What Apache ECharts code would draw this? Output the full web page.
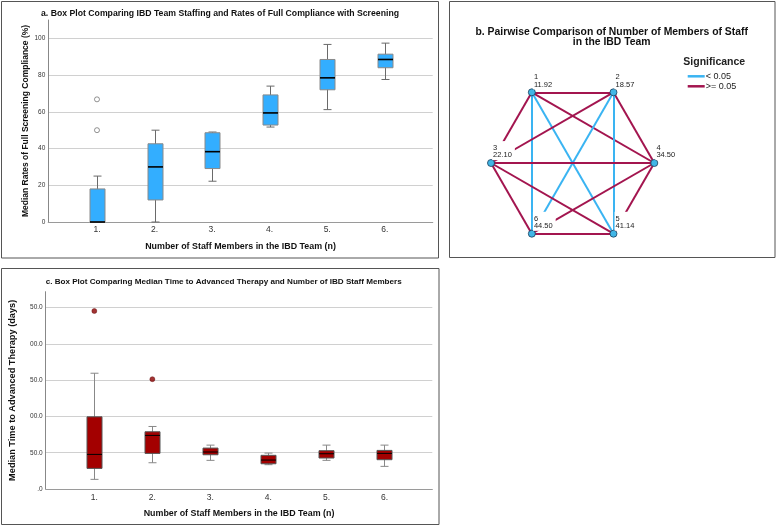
<!DOCTYPE html>
<html>
<head>
<meta charset="utf-8">
<script src="https://cdn.jsdelivr.net/npm/echarts@6/dist/echarts.min.js"></script>
<style>
	html, body { margin: 0; padding: 0; background: #fff; }
	#chart { width: 777px; height: 527px; }
</style>
</head>
<body>
<div id="chart"></div>
<script>
"use strict";

var teamSizes = ['1.', '2.', '3.', '4.', '5.', '6.'];

// panel a - [min, Q1, median, Q3, max]
var screeningBoxes = [
	[0, 0, 0, 18, 25],
	[0, 12, 30, 42.6, 50],
	[22.2, 29.1, 38.3, 48.6, 49],
	[51.7, 52.8, 59.4, 69.2, 74],
	[61.2, 72, 78.5, 88.5, 96.7],
	[77.6, 84, 88.5, 91.4, 97.4]
];
var screeningOutliers = [[0, 50], [0, 66.8]];

// panel c - [min, Q1, median, Q3, max]
var therapyBoxes = [
	[13.3, 28.4, 47.7, 99.5, 159.6],
	[36.2, 49.1, 73.9, 78.9, 86.2],
	[39.5, 47.2, 51, 56.4, 60.5],
	[33.5, 34.8, 39.9, 46.4, 49.5],
	[39.5, 42.7, 48.6, 52.8, 60.5],
	[31.2, 40.4, 49.1, 53.2, 60.5]
];
var therapyOutliers = [[0, 245.4], [1, 151.4]];
var therapyTicks = ['.0', '50.0', '00.0', '50.0', '00.0', '50.0'];

// panel b
var groupNames = ['1', '2', '3', '4', '5', '6'];
var meanRanks = [11.92, 18.57, 22.10, 34.50, 41.14, 44.50];
var hexSlot = [4, 5, 3, 0, 1, 2];
var pairs = [[1,2],[1,3],[1,4],[1,5],[1,6],[2,3],[2,4],[2,5],[2,6],[3,4],[3,5],[3,6],[4,5],[4,6],[5,6]];
var pairSignificant = [false, false, false, true, true, false, false, true, true, false, false, false, false, false, false];

var FONT = 'Liberation Sans';
var BLUE = '#3AB4F2', RED = '#A3154F';

function boxRenderer(fill, stroke, whisker, medianWidth) {
	return function (params, api) {
		var c = api.value(0);
		var lo = api.coord([c, api.value(1)]);
		var q1 = api.coord([c, api.value(2)]);
		var md = api.coord([c, api.value(3)]);
		var q3 = api.coord([c, api.value(4)]);
		var hi = api.coord([c, api.value(5)]);
		var x = Math.round(lo[0]) + 0.5, w = 15, cap = 8;
		var ws = { stroke: whisker, lineWidth: 1 };
		return {
			type: 'group',
			children: [
				{ type: 'line', shape: { x1: x, y1: hi[1], x2: x, y2: lo[1] }, style: ws },
				{ type: 'line', shape: { x1: x - cap / 2, y1: hi[1], x2: x + cap / 2, y2: hi[1] }, style: ws },
				{ type: 'line', shape: { x1: x - cap / 2, y1: lo[1], x2: x + cap / 2, y2: lo[1] }, style: ws },
				{ type: 'rect', shape: { x: x - w / 2, y: q3[1], width: w, height: q1[1] - q3[1] },
					style: { fill: fill, stroke: stroke, lineWidth: 1 } },
				{ type: 'line', shape: { x1: x - w / 2, y1: md[1], x2: x + w / 2, y2: md[1] },
					style: { stroke: '#000', lineWidth: medianWidth } }
			]
		};
	};
}

function withIndex(rows) {
	return rows.map(function (r, i) { return [i].concat(r); });
}

// hexagon layout on a hidden cartesian grid
var nodes = groupNames.map(function (n, i) {
	var ang = hexSlot[i] * Math.PI / 3;
	return { name: n, rank: meanRanks[i], value: [Math.cos(ang), Math.sin(ang)] };
});
var links = pairs.map(function (p, i) {
	return {
		source: p[0] - 1, target: p[1] - 1,
		lineStyle: { color: pairSignificant[i] ? BLUE : RED }
	};
});

function bgX(gridIndex, name, gap) {
	return {
		gridIndex: gridIndex, type: 'value', min: 0, max: 1,
		axisLine: { show: true, lineStyle: { color: '#9a9a9a', width: 1.2 } },
		axisTick: { show: false }, axisLabel: { show: false }, splitLine: { show: false },
		name: name, nameLocation: 'middle', nameGap: gap,
		nameTextStyle: { fontFamily: FONT, fontWeight: 'bold', fontSize: 8.9, color: '#111' }
	};
}
function fgX(gridIndex, margin) {
	return {
		gridIndex: gridIndex, type: 'category', data: teamSizes,
		axisLine: { show: false }, axisTick: { show: false }, splitLine: { show: false },
		axisLabel: { fontFamily: FONT, fontSize: 8.5, color: '#333', margin: margin }
	};
}

var chart = echarts.init(document.getElementById('chart'), null, { renderer: 'canvas' });

var option = {
	animation: false,
	backgroundColor: '#fff',
	grid: [
		{ left: 48.3, top: 20, width: 384.4, height: 202 },
		{ left: 68.2, top: 20, width: 345.3, height: 202 },
		{ left: 45.7, top: 291.7, width: 386.6, height: 197.3 },
		{ left: 65.3, top: 291.7, width: 348.2, height: 197.3 },
		{ left: 491, top: 92.3, width: 163.3, height: 141.4 }
	],
	xAxis: [
		bgX(0, 'Number of Staff Members in the IBD Team (n)', 20),
		fgX(1, 3),
		bgX(2, 'Number of Staff Members in the IBD Team (n)', 20),
		fgX(3, 4),
		{ gridIndex: 4, type: 'value', min: -1, max: 1, show: false }
	],
	yAxis: [
		{
			gridIndex: 0, type: 'value', min: 0, max: 110, interval: 20,
			axisLine: { show: true, lineStyle: { color: '#888' } },
			axisTick: { show: false },
			splitLine: { show: true, showMinLine: false, showMaxLine: false, lineStyle: { color: '#d0d0d0' } },
			axisLabel: { fontFamily: FONT, fontSize: 6.5, color: '#333', margin: 3, showMaxLabel: false },
			name: 'Median Rates of Full Screening Compliance (%)', nameLocation: 'middle', nameGap: 18,
			nameTextStyle: { fontFamily: FONT, fontWeight: 'bold', fontSize: 8.5, color: '#111' }
		},
		{ gridIndex: 1, type: 'value', min: 0, max: 110, show: false },
		{
			gridIndex: 2, type: 'value', min: 0, max: 272, interval: 50,
			axisLine: { show: true, lineStyle: { color: '#888' } },
			axisTick: { show: false },
			splitLine: { show: true, showMinLine: false, showMaxLine: false, lineStyle: { color: '#d0d0d0' } },
			axisLabel: {
				fontFamily: FONT, fontSize: 6.5, color: '#333', margin: 3, showMaxLabel: false,
				formatter: function (v) { return therapyTicks[Math.round(v / 50)]; }
			},
			name: 'Median Time to Advanced Therapy (days)', nameLocation: 'middle', nameGap: 29,
			nameTextStyle: { fontFamily: FONT, fontWeight: 'bold', fontSize: 9.2, color: '#111' }
		},
		{ gridIndex: 3, type: 'value', min: 0, max: 272, show: false },
		{ gridIndex: 4, type: 'value', min: -0.8660254, max: 0.8660254, inverse: true, show: false }
	],
	legend: {
		data: ['< 0.05', '>= 0.05'],
		orient: 'vertical', left: 687.7, top: 71.3, padding: 0,
		icon: 'rect', itemWidth: 17, itemHeight: 2.5, itemGap: 0,
		selectedMode: false,
		textStyle: { fontFamily: FONT, fontSize: 9, color: '#222', lineHeight: 10, padding: [0, 0, 0, -4] }
	},
	graphic: [
		{ type: 'rect', shape: { x: 1.5, y: 1.5, width: 437, height: 256.5 }, style: { fill: 'none', stroke: '#555', lineWidth: 1 } },
		{ type: 'rect', shape: { x: 449.5, y: 1.5, width: 325.5, height: 256 }, style: { fill: 'none', stroke: '#555', lineWidth: 1 } },
		{ type: 'rect', shape: { x: 1.5, y: 268.5, width: 437.5, height: 256 }, style: { fill: 'none', stroke: '#555', lineWidth: 1 } },
		{ type: 'text', x: 220, y: 13.3, style: { text: 'a. Box Plot Comparing IBD Team Staffing and Rates of Full Compliance with Screening',
			textAlign: 'center', textVerticalAlign: 'middle', font: 'bold 8.7px "Liberation Sans"', fill: '#111' } },
		{ type: 'text', x: 611.7, y: 37.5, style: { text: 'b. Pairwise Comparison of Number of Members of Staff\nin the IBD Team',
			textAlign: 'center', textVerticalAlign: 'middle', font: 'bold 10.4px "Liberation Sans"', lineHeight: 10, fill: '#111' } },
		{ type: 'text', x: 223.7, y: 281.7, style: { text: 'c. Box Plot Comparing Median Time to Advanced Therapy and Number of IBD Staff Members',
			textAlign: 'center', textVerticalAlign: 'middle', font: 'bold 8.1px "Liberation Sans"', fill: '#111' } },
		{ type: 'text', x: 683.3, y: 62, style: { text: 'Significance',
			textAlign: 'left', textVerticalAlign: 'middle', font: 'bold 10.5px "Liberation Sans"', fill: '#222' } }
	],
	series: [
		{
			type: 'custom', xAxisIndex: 1, yAxisIndex: 1,
			renderItem: boxRenderer('#33AEFF', '#8a8a8a', '#6a6a6a', 1.6),
			encode: { x: 0, y: [1, 2, 3, 4, 5] },
			data: withIndex(screeningBoxes)
		},
		{
			type: 'scatter', xAxisIndex: 1, yAxisIndex: 1, symbol: 'circle', symbolSize: 5,
			itemStyle: { color: '#fff', borderColor: '#555', borderWidth: 0.8 },
			data: screeningOutliers
		},
		{
			type: 'custom', xAxisIndex: 3, yAxisIndex: 3,
			renderItem: boxRenderer('#A30000', '#555', '#888', 1),
			encode: { x: 0, y: [1, 2, 3, 4, 5] },
			data: withIndex(therapyBoxes)
		},
		{
			type: 'scatter', xAxisIndex: 3, yAxisIndex: 3, symbol: 'circle', symbolSize: 5,
			itemStyle: { color: '#8B0000', borderColor: '#5a0000', borderWidth: 0.5 },
			data: therapyOutliers
		},
		{
			type: 'graph', coordinateSystem: 'cartesian2d', xAxisIndex: 4, yAxisIndex: 4,
			silent: true,
			symbol: 'circle', symbolSize: 7,
			itemStyle: { color: '#41B6E6', borderColor: '#1A3D5C', borderWidth: 0.8 },
			lineStyle: { width: 2, opacity: 1, curveness: 0 },
			label: {
				show: true, position: [5, -18], align: 'left', verticalAlign: 'top',
				fontFamily: FONT, fontSize: 7.5, lineHeight: 7.5, color: '#222',
				backgroundColor: '#fff', padding: [3, 3, 1, 1],
				formatter: function (p) { return p.name + '\n' + p.data.rank.toFixed(2); }
			},
			data: nodes,
			links: links
		},
		{ type: 'line', name: '< 0.05', xAxisIndex: 1, yAxisIndex: 1, color: BLUE, data: [] },
		{ type: 'line', name: '>= 0.05', xAxisIndex: 1, yAxisIndex: 1, color: RED, data: [] }
	]
};

chart.setOption(option);
</script>
</body>
</html>
